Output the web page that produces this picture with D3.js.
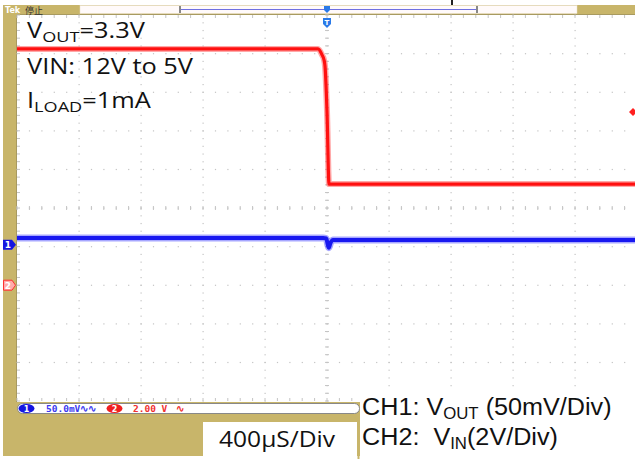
<!DOCTYPE html>
<html><head><meta charset="utf-8">
<script src="https://cdn.jsdelivr.net/npm/d3@7"></script>
<style>html,body{margin:0;padding:0;background:#fff;}svg{display:block;}text{white-space:pre;}</style>
</head><body>
<script>
// ---- data ----
const timeDivUs = 400;              // 400 µS/Div
const ch1VoltsPerDiv = 50;          // mV/div
const ch2VoltsPerDiv = 2;           // V/div
const ch1OffsetDiv = -0.95;         // ground marker position (divisions)
const ch2OffsetDiv = -2;
// CH2: VIN (V) vs time (µs)
const ch2Time = [-2000, -58, -32, -19, -13, 0, 13, 2000];
const ch2Volts = [12.24, 12.24, 11.93, 11.67, 11.36, 9.0, 5.24, 5.24];
// CH1: VOUT deviation (mV) vs time (µs)
const ch1Time = [-2000, -25, -5, 5, 12, 22, 40, 70, 2000];
const ch1mV = [8.6, 8.6, 8.0, 0.0, -4.0, 2.0, 6.0, 6.2, 6.2];
const infoLines = ["VOUT=3.3V", "VIN: 12V to 5V", "ILOAD=1mA"];
const chLabels = ["CH1:", "CH2:"];
const timebaseLabel = "400µS/Div";

const W = 635, H = 459;
const tan = "#c8b56a";
const svg = d3.select("body").append("svg").attr("width", W).attr("height", H);

// scales
const x = d3.scaleLinear().domain([-5 * timeDivUs, 5 * timeDivUs]).range([17, 637]);
const yDiv = d3.scaleLinear().domain([-5, 5]).range([401, 15]);
const y1 = v => yDiv(ch1OffsetDiv + v / ch1VoltsPerDiv);
const y2 = v => yDiv(ch2OffsetDiv + v / ch2VoltsPerDiv);

// frame
svg.append("rect").attr("x", 0).attr("y", 0).attr("width", W).attr("height", H).attr("fill", "#fff");
svg.append("rect").attr("x", 3).attr("y", 5).attr("width", 14).attr("height", 451).attr("fill", tan);
svg.append("rect").attr("x", 3).attr("y", 5).attr("width", 632).attr("height", 10).attr("fill", tan);
svg.append("rect").attr("x", 3).attr("y", 402).attr("width", 357).attr("height", 54).attr("fill", tan);
svg.append("line").attr("x1", 17).attr("x2", 635).attr("y1", 14.5).attr("y2", 14.5).attr("stroke", "#a89a60");
svg.append("line").attr("x1", 16.5).attr("x2", 16.5).attr("y1", 15).attr("y2", 402).attr("stroke", "#a89a60");
// plot area
svg.append("rect").attr("x", 17).attr("y", 15).attr("width", 620).attr("height", 387).attr("fill", "#fff");

// top bar
svg.append("rect").attr("x", 80).attr("y", 5.5).attr("width", 497).attr("height", 8).attr("fill", "#fffafa").attr("stroke", "#e8e0c8").attr("stroke-width", 0.5);
svg.append("line").attr("x1", 180).attr("x2", 477).attr("y1", 9.5).attr("y2", 9.5).attr("stroke", "#7070e0").attr("stroke-width", 1.2);
svg.append("rect").attr("x", 179).attr("y", 6).attr("width", 2).attr("height", 7).attr("fill", "#888");
svg.append("rect").attr("x", 476).attr("y", 6).attr("width", 2).attr("height", 7).attr("fill", "#888");
svg.append("rect").attr("x", 451).attr("y", 0).attr("width", 2).attr("height", 5).attr("fill", "#222");
svg.append("text").attr("x", 5).attr("y", 13).attr("font-family", "DejaVu Sans").attr("font-size", 8).attr("font-weight", "bold").attr("fill", "#fff").text("Tek");
svg.append("text").attr("x", 25).attr("y", 13.5).attr("font-family", "Noto Sans CJK SC").attr("font-size", 9).attr("fill", "#333").text("停止");

// grid
const g = svg.append("g");
const gridCol = "#c4c4c4";
const majX = d3.range(-5, 6).map(d => d * timeDivUs);
const majY = d3.range(-4, 5);
const minX = d3.range(-25, 26).map(d => d * timeDivUs / 5);
const minY = d3.range(-25, 26).map(d => d / 5);
majX.forEach(t => {
  if (t === -5 * timeDivUs || t === 5 * timeDivUs) return;
  minY.forEach(v => g.append("rect").attr("x", x(t) - 0.5).attr("y", yDiv(v) - 0.5).attr("width", 1.2).attr("height", 1.2).attr("fill", gridCol));
});
majY.forEach(v => {
  minX.forEach(t => g.append("rect").attr("x", x(t) - 0.5).attr("y", yDiv(v) - 0.5).attr("width", 1.2).attr("height", 1.2).attr("fill", gridCol));
});
// center ticks
minX.forEach(t => g.append("line").attr("x1", x(t)).attr("x2", x(t)).attr("y1", yDiv(0) - 2).attr("y2", yDiv(0) + 2).attr("stroke", gridCol));
minY.forEach(v => g.append("line").attr("x1", x(0) - 2).attr("x2", x(0) + 2).attr("y1", yDiv(v)).attr("y2", yDiv(v)).attr("stroke", gridCol));
// edge ticks
minX.forEach(t => {
  g.append("line").attr("x1", x(t)).attr("x2", x(t)).attr("y1", 15).attr("y2", 18).attr("stroke", gridCol);
  g.append("line").attr("x1", x(t)).attr("x2", x(t)).attr("y1", 398).attr("y2", 401).attr("stroke", gridCol);
});
minY.forEach(v => g.append("line").attr("x1", 17).attr("x2", 20).attr("y1", yDiv(v)).attr("y2", yDiv(v)).attr("stroke", gridCol));

// traces
svg.append("clipPath").attr("id", "clip").append("rect").attr("x", 17).attr("y", 15).attr("width", 618).attr("height", 387);
const tr = svg.append("g").attr("clip-path", "url(#clip)");
const ch2Data = ch2Time.map((t, i) => [t, ch2Volts[i]]);
const ch1Data = ch1Time.map((t, i) => [t, ch1mV[i]]);
const line2 = d3.line().x(d => x(d[0])).y(d => y2(d[1])).curve(d3.curveMonotoneX);
const line1 = d3.line().x(d => x(d[0])).y(d => y1(d[1])).curve(d3.curveMonotoneX);
tr.append("path").attr("d", line2(ch2Data)).attr("fill", "none").attr("stroke", "#ff6060").attr("stroke-width", 6).attr("opacity", 0.55);
tr.append("path").attr("d", line2(ch2Data)).attr("fill", "none").attr("stroke", "#ff1010").attr("stroke-width", 3.2);
tr.append("path").attr("d", line1(ch1Data)).attr("fill", "none").attr("stroke", "#5050ff").attr("stroke-width", 7).attr("opacity", 0.5);
tr.append("path").attr("d", line1(ch1Data)).attr("fill", "none").attr("stroke", "#1818f0").attr("stroke-width", 4);

// markers
const m1y = yDiv(ch1OffsetDiv), m2y = yDiv(ch2OffsetDiv);
svg.append("path").attr("d", `M3,${m1y - 5}H12L16,${m1y}L12,${m1y + 5}H3Z`).attr("fill", "#1515e0");
svg.append("text").attr("x", 8).attr("y", m1y + 3.5).attr("text-anchor", "middle").attr("font-family", "DejaVu Sans").attr("font-size", 9).attr("font-weight", "bold").attr("fill", "#fff").text("1");
svg.append("path").attr("d", `M3.5,${m2y - 5}H12L15.5,${m2y}L12,${m2y + 5}H3.5Z`).attr("fill", "#ffaaaa").attr("stroke", "#ff3030").attr("stroke-width", 1);
svg.append("text").attr("x", 8).attr("y", m2y + 3.5).attr("text-anchor", "middle").attr("font-family", "DejaVu Sans").attr("font-size", 9).attr("font-weight", "bold").attr("fill", "#fff").text("2");
// trigger position marker
const tx = x(0);
svg.append("path").attr("d", `M${tx - 3},6H${tx + 3}V10L${tx},13L${tx - 3},10Z`).attr("fill", "#2a7ae8");
svg.append("path").attr("d", `M${tx - 4},18H${tx + 4}V24L${tx},28L${tx - 4},24Z`).attr("fill", "#2a7ae8");
svg.append("text").attr("x", tx).attr("y", 25).attr("text-anchor", "middle").attr("font-family", "DejaVu Sans").attr("font-size", 7).attr("font-weight", "bold").attr("fill", "#fff").text("T");
// trigger level marker
svg.append("path").attr("d", `M629,112L633,108L637,112L633,116Z`).attr("fill", "#ff2020");

// bottom readout bar
svg.append("rect").attr("x", 17.5).attr("y", 403.5).attr("width", 342).attr("height", 10).attr("rx", 5).attr("fill", "#fff").attr("stroke", "#888");
svg.append("ellipse").attr("cx", 26.5).attr("cy", 408.5).attr("rx", 8).attr("ry", 4.5).attr("fill", "#1515e0");
svg.append("text").attr("x", 26.5).attr("y", 411.5).attr("text-anchor", "middle").attr("font-family", "DejaVu Sans").attr("font-size", 8).attr("font-weight", "bold").attr("fill", "#fff").text("1");
svg.append("text").attr("x", 46).attr("y", 411.8).attr("font-family", "DejaVu Sans Mono").attr("font-size", 9.5).attr("font-weight", "bold").attr("fill", "#3a3af0").text("50.0mV∿∿");
svg.append("ellipse").attr("cx", 114.5).attr("cy", 408.5).attr("rx", 8).attr("ry", 4.5).attr("fill", "#f02020");
svg.append("text").attr("x", 114.5).attr("y", 411.5).attr("text-anchor", "middle").attr("font-family", "DejaVu Sans").attr("font-size", 8).attr("font-weight", "bold").attr("fill", "#fff").text("2");
svg.append("text").attr("x", 133).attr("y", 411.8).attr("font-family", "DejaVu Sans Mono").attr("font-size", 9.5).attr("font-weight", "bold").attr("fill", "#f03030").text("2.00 V");
svg.append("text").attr("x", 176).attr("y", 411.8).attr("font-family", "DejaVu Sans Mono").attr("font-size", 9.5).attr("font-weight", "bold").attr("fill", "#f03030").text("∿");

// annotation boxes
svg.append("rect").attr("x", 203).attr("y", 422).attr("width", 154).attr("height", 34).attr("fill", "#fff");
svg.append("text").attr("transform", "translate(219,447) scale(1.17,1)").attr("font-family", "Open Sans").attr("font-size", 21).attr("fill", "#111").text(timebaseLabel);
svg.append("rect").attr("x", 360).attr("y", 390).attr("width", 275).attr("height", 69).attr("fill", "#fff");
svg.append("line").attr("x1", 358.5).attr("x2", 358.5).attr("y1", 414).attr("y2", 459).attr("stroke", tan).attr("stroke-width", 2);

const f2 = "Liberation Sans";
const t1 = svg.append("text").attr("transform", "translate(362,415) scale(1.05,1)").attr("font-family", f2).attr("font-size", 24).attr("fill", "#111");
t1.append("tspan").text(chLabels[0] + " V");
t1.append("tspan").attr("font-size", 16).attr("dy", 4).text("OUT");
t1.append("tspan").attr("dy", -4).text(" (50mV/Div)");
const t2 = svg.append("text").attr("transform", "translate(362,445) scale(1.05,1)").attr("font-family", f2).attr("font-size", 24).attr("fill", "#111");
t2.append("tspan").text(chLabels[1] + "  V");
t2.append("tspan").attr("font-size", 16).attr("dy", 4).text("IN");
t2.append("tspan").attr("dy", -4).text("(2V/Div)");

// info text (top-left)
const f1 = "Open Sans";
const info = svg.append("g").attr("transform", "translate(27,0) scale(1.21,1)");
const a = info.append("text").attr("x", 0).attr("y", 38).attr("font-family", f1).attr("font-size", 21).attr("fill", "#111");
a.append("tspan").text("V");
a.append("tspan").attr("font-size", 15).attr("dy", 4).text("OUT");
a.append("tspan").attr("dy", -4).text("=3.3V");
info.append("text").attr("x", 0).attr("y", 74).attr("font-family", f1).attr("font-size", 21).attr("fill", "#111").text(infoLines[1]);
const c = info.append("text").attr("x", 0).attr("y", 108).attr("font-family", f1).attr("font-size", 21).attr("fill", "#111");
c.append("tspan").text("I");
c.append("tspan").attr("font-size", 15).attr("dy", 4).text("LOAD");
c.append("tspan").attr("dy", -4).text("=1mA");
</script>
</body></html>
